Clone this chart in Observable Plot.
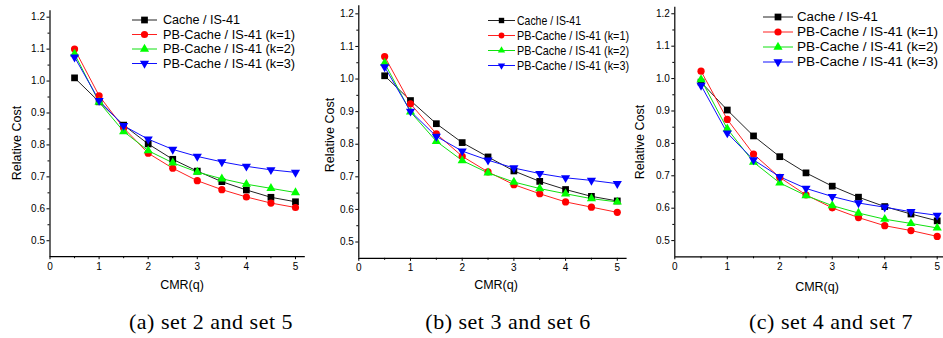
<!DOCTYPE html>
<html><head><meta charset="utf-8">
<script src="https://cdn.jsdelivr.net/npm/d3@7"></script>
<script src="https://cdn.jsdelivr.net/npm/@observablehq/plot@0.6"></script>
<style>
body{margin:0;background:#fff;}
#wrap{position:relative;width:943px;height:338px;overflow:hidden;font-family:"Liberation Sans",Arial,sans-serif;}
.panel{position:absolute;top:0;}
.cap{position:absolute;top:311px;font-family:"Liberation Serif","Times New Roman",serif;font-size:22px;line-height:1;letter-spacing:0.5px;color:#000;white-space:nowrap;transform:translateX(-50%);}
</style></head>
<body><div id="wrap"></div>
<script>
// ---- data ----
const cmr = [0.5, 1, 1.5, 2, 2.5, 3, 3.5, 4, 4.5, 5];
const seriesNames = ["Cache / IS-41", "PB-Cache / IS-41 (k=1)", "PB-Cache / IS-41 (k=2)", "PB-Cache / IS-41 (k=3)"];
const captions = ["(a) set 2 and set 5", "(b) set 3 and set 6", "(c) set 4 and set 7"];
const yTicks = [0.5, 0.6, 0.7, 0.8, 0.9, 1.0, 1.1, 1.2];
const yMinorTicks = [0.55, 0.65, 0.75, 0.85, 0.95, 1.05, 1.15];
const xTicks = [0, 1, 2, 3, 4, 5];
const xMinorTicks = [0.5, 1.5, 2.5, 3.5, 4.5];
const yLabel = "Relative Cost";
const xLabel = "CMR(q)";

// set 2 and set 5
const a_cache = [1.010, 0.935, 0.862, 0.803, 0.755, 0.718, 0.685, 0.659, 0.636, 0.622];
const a_k1    = [1.100, 0.954, 0.853, 0.774, 0.727, 0.688, 0.660, 0.637, 0.618, 0.604];
const a_k2    = [1.085, 0.934, 0.842, 0.782, 0.744, 0.715, 0.694, 0.677, 0.664, 0.651];
const a_k3    = [1.075, 0.939, 0.860, 0.818, 0.786, 0.764, 0.747, 0.733, 0.722, 0.714];
// set 3 and set 6
const b_cache = [1.010, 0.934, 0.863, 0.805, 0.761, 0.718, 0.686, 0.661, 0.640, 0.626];
const b_k1    = [1.069, 0.924, 0.832, 0.763, 0.715, 0.676, 0.648, 0.623, 0.607, 0.591];
const b_k2    = [1.049, 0.899, 0.809, 0.750, 0.712, 0.684, 0.664, 0.648, 0.633, 0.623];
const b_k3    = [1.037, 0.901, 0.824, 0.779, 0.751, 0.727, 0.710, 0.697, 0.689, 0.679];
// set 4 and set 7
const c_cache = [0.989, 0.903, 0.823, 0.759, 0.709, 0.668, 0.634, 0.605, 0.582, 0.561];
const c_k1    = [1.023, 0.874, 0.767, 0.695, 0.641, 0.601, 0.571, 0.546, 0.531, 0.513];
const c_k2    = [0.997, 0.845, 0.742, 0.678, 0.639, 0.608, 0.585, 0.566, 0.553, 0.539];
const c_k3    = [0.979, 0.832, 0.749, 0.697, 0.661, 0.636, 0.616, 0.603, 0.589, 0.578];

// ---- styles ----
const colors = ["#000000", "#ff0000", "#00ff00", "#0000ff"];
const lineColors = ["#222222", "#ff2020", "#10e010", "#1010ff"];
const triangleDown = {
  draw(context, size) {
    const y = Math.sqrt(size / (3 * Math.sqrt(3)));
    context.moveTo(0, 2 * y);
    context.lineTo(-Math.sqrt(3) * y, -y);
    context.lineTo(Math.sqrt(3) * y, -y);
    context.closePath();
  }
};
const symbols = ["square", "circle", "triangle", triangleDown];
const d3symbols = [d3.symbolSquare, d3.symbolCircle, d3.symbolTriangle, triangleDown];
const radii = [3.8, 3.6, 3.4, 3.4];

const panels = [
  {values: [a_cache, a_k1, a_k2, a_k3], left: 0, width: 315, ml: 49.5, mr: 10.2, mt: 10.3, mb: 43.8, xmax: 5.2, ytop: 1.22,
   leg: {x0: 132, x1: 157, tx: 163, rows: [20, 34.5, 49, 63.5], w1: 77, w2: 132, fs: 12.5, ms: 1},
   ylab: {x: 17, y: 143}, xlab: {x: 182, y: 289}, cap: 211},
  {values: [b_cache, b_k1, b_k2, b_k3], left: 315, width: 315, ml: 43.3, mr: 3.4, mt: 5.2, mb: 42.2, xmax: 5.19, ytop: 1.225,
   leg: {x0: 173, x1: 200, tx: 202, rows: [20.5, 35.5, 50.5, 65.5], w1: 64, w2: 112, fs: 13, ms: 0.8},
   ylab: {x: 15, y: 135}, xlab: {x: 181, y: 289}, cap: 508},
  {values: [c_cache, c_k1, c_k2, c_k3], left: 630, width: 313, ml: 44.3, mr: 0, mt: 6.8, mb: 43.7, xmax: 5.12, ytop: 1.22,
   leg: {x0: 133, x1: 163, tx: 167, rows: [17, 32, 47, 62], w1: 81, w2: 141, fs: 12.5, ms: 1},
   ylab: {x: 10, y: 142}, xlab: {x: 187, y: 291}, cap: 831}
];

const wrap = document.getElementById("wrap");
const ymin = 0.45;

panels.forEach((p, pi) => {
  const marks = [
    Plot.axisY(yTicks, {tickFormat: d3.format(".1f"), tickSize: 3, tickPadding: 2, fontSize: 10, label: null}),
    Plot.axisY(yMinorTicks, {tickFormat: () => "", tickSize: 2, label: null}),
    Plot.axisX(xTicks, {tickFormat: d3.format("d"), tickSize: 3, tickPadding: 3, fontSize: 10, label: null}),
    Plot.axisX(xMinorTicks, {tickFormat: () => "", tickSize: 2, label: null}),
    Plot.ruleX([0], {stroke: "#000", strokeWidth: 1.2}),
    Plot.ruleY([ymin], {stroke: "#000", strokeWidth: 1.2})
  ];
  p.values.forEach((vals, i) => {
    const data = cmr.map((x, j) => ({x, y: vals[j]}));
    marks.push(Plot.line(data, {x: "x", y: "y", stroke: lineColors[i], strokeWidth: 1}));
  });
  p.values.forEach((vals, i) => {
    const data = cmr.map((x, j) => ({x, y: vals[j]}));
    marks.push(Plot.dot(data, {x: "x", y: "y", symbol: symbols[i], fill: colors[i], stroke: "none", r: radii[i]}));
  });
  const chart = Plot.plot({
    width: p.width, height: 300,
    marginLeft: p.ml, marginRight: p.mr, marginTop: p.mt, marginBottom: p.mb,
    style: {background: "transparent", fontFamily: "'Liberation Sans', Arial, sans-serif", color: "#000", overflow: "visible"},
    x: {domain: [0, p.xmax], axis: null},
    y: {domain: [ymin, p.ytop], axis: null},
    marks
  });
  chart.classList.add("panel");
  chart.style.left = p.left + "px";
  const svg = d3.select(chart);
  // axis titles
  svg.append("text").attr("transform", `translate(${p.ylab.x},${p.ylab.y}) rotate(-90)`)
    .attr("text-anchor", "middle").attr("dy", "0.35em").attr("font-size", 12.5).attr("fill", "#000").text(yLabel);
  svg.append("text").attr("x", p.xlab.x).attr("y", p.xlab.y)
    .attr("text-anchor", "middle").attr("font-size", 12.5).attr("fill", "#000").text(xLabel);
  // legend
  const lg = svg.append("g").attr("text-anchor", "start");
  seriesNames.forEach((name, i) => {
    const y = p.leg.rows[i];
    const rr = radii[i] * p.leg.ms;
    lg.append("line").attr("x1", p.leg.x0).attr("x2", p.leg.x1).attr("y1", y).attr("y2", y)
      .attr("stroke", lineColors[i]).attr("stroke-width", 1);
    lg.append("path").attr("transform", `translate(${(p.leg.x0 + p.leg.x1) / 2},${y})`)
      .attr("d", d3.symbol(d3symbols[i], Math.PI * rr * rr)()).attr("fill", colors[i]);
    lg.append("text").attr("x", p.leg.tx).attr("y", y).attr("dy", "0.35em")
      .attr("text-anchor", "start")
      .attr("font-size", p.leg.fs).attr("fill", "#000")
      .attr("textLength", i === 0 ? p.leg.w1 : p.leg.w2).attr("lengthAdjust", "spacingAndGlyphs")
      .text(name);
  });
  wrap.appendChild(chart);
  const cap = document.createElement("div");
  cap.className = "cap";
  cap.style.left = p.cap + "px";
  cap.textContent = captions[pi];
  wrap.appendChild(cap);
});
</script>
</body></html>
